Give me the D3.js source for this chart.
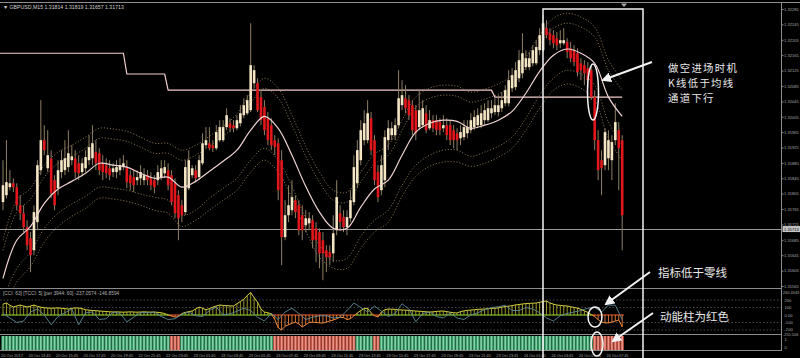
<!DOCTYPE html>
<html><head><meta charset="utf-8">
<script src="https://cdn.jsdelivr.net/npm/d3@7"></script>
<style>html,body{margin:0;padding:0;background:#000;overflow:hidden}svg{display:block}</style>
</head><body><svg id="c" width="800" height="358"></svg>
<script>
// ---------- DATA ----------
const open=[1.31783,1.31801,1.31822,1.31832,1.31822,1.31775,1.31754,1.31718,1.31689,1.31658,
1.31731,1.31866,1.31944,1.31871,1.31897,1.31840,1.31819,1.31861,1.31866,1.31874,
1.31892,1.31897,1.31884,1.31861,1.31871,1.31892,1.31897,1.31913,1.31910,1.31884,
1.31879,1.31871,1.31861,1.31861,1.31866,1.31874,1.31874,1.31853,1.31848,1.31840,
1.31845,1.31840,1.31853,1.31845,1.31840,1.31840,1.31848,1.31858,1.31866,1.31853,
1.31832,1.31801,1.31775,1.31757,1.31819,1.31853,1.31866,1.31848,1.31884,1.31931,
1.31936,1.31931,1.31923,1.31944,1.31944,1.31978,1.31988,1.31983,1.31975,1.31988,
1.32009,1.32014,1.32022,1.32092,1.32092,1.32056,1.32030,1.32001,1.31983,1.31944,
1.31936,1.31892,1.31692,1.31749,1.31762,1.31788,1.31775,1.31749,1.31723,1.31728,
1.31736,1.31715,1.31705,1.31684,1.31658,1.31653,1.31650,1.31710,1.31754,1.31744,
1.31718,1.31741,1.31783,1.31832,1.31892,1.31944,1.31944,1.32001,1.31944,1.31861,
1.31814,1.31840,1.31944,1.31957,1.31957,1.31983,1.32035,1.32053,1.32048,1.32035,
1.32022,1.31978,1.31983,1.32014,1.31975,1.31996,1.31996,1.31991,1.31975,1.31983,
1.31983,1.31970,1.31962,1.31949,1.31952,1.31962,1.31970,1.31978,1.31983,1.31983,
1.31996,1.31996,1.32014,1.32017,1.32017,1.32027,1.32040,1.32040,1.32079,1.32082,
1.32105,1.32118,1.32134,1.32134,1.32144,1.32144,1.32178,1.32178,1.32235,1.32222,
1.32217,1.32209,1.32196,1.32196,1.32199,1.32183,1.32178,1.32170,1.32144,1.32139,
1.32131,1.32126,1.32056,1.31944,1.31892,1.31879,1.31897,1.31892,1.31944,1.31970,1.31944];
const high=[1.31892,1.31944,1.31866,1.31845,1.31832,1.31801,1.31775,1.31736,1.31705,1.31775,
1.31892,1.32048,1.31983,1.31970,1.31918,1.31853,1.31892,1.31918,1.31944,1.31970,
1.31931,1.31918,1.31905,1.31897,1.31918,1.31957,1.31983,1.31944,1.31923,1.31905,
1.31897,1.31892,1.31884,1.31892,1.31897,1.31905,1.31892,1.31866,1.31866,1.31866,
1.31879,1.31871,1.31866,1.31861,1.31853,1.31879,1.31892,1.31892,1.31884,1.31866,
1.31845,1.31814,1.31788,1.31892,1.31918,1.31879,1.31879,1.31905,1.31962,1.31978,
1.31978,1.31944,1.31983,1.31996,1.31996,1.32027,1.32001,1.31996,1.32009,1.32035,
1.32053,1.32061,1.32248,1.32139,1.32105,1.32074,1.32048,1.32017,1.32001,1.31957,
1.31949,1.31918,1.31788,1.31827,1.31840,1.31801,1.31788,1.31775,1.31762,1.31757,
1.31749,1.31731,1.31715,1.31705,1.31671,1.31671,1.31749,1.31840,1.31775,1.31762,
1.31762,1.31814,1.31905,1.31944,1.31996,1.32022,1.32048,1.32017,1.31957,1.31879,
1.31905,1.31970,1.31996,1.31991,1.32001,1.32126,1.32100,1.32087,1.32061,1.32048,
1.32035,1.32074,1.32048,1.32035,1.32022,1.32009,1.32009,1.32001,1.32009,1.32001,
1.31996,1.31983,1.31975,1.31983,1.31996,1.31996,1.32014,1.32022,1.32027,1.32035,
1.32040,1.32048,1.32048,1.32053,1.32061,1.32069,1.32087,1.32126,1.32131,1.32147,
1.32178,1.32222,1.32178,1.32173,1.32191,1.32204,1.32235,1.32269,1.32256,1.32235,
1.32230,1.32225,1.32230,1.32235,1.32209,1.32199,1.32191,1.32183,1.32157,1.32152,
1.32147,1.32139,1.32074,1.31970,1.31918,1.31975,1.31970,1.31957,1.32040,1.31991,1.31957];
const low=[1.31762,1.31793,1.31814,1.31809,1.31762,1.31736,1.31705,1.31658,1.31601,1.31645,
1.31710,1.31853,1.31905,1.31861,1.31793,1.31762,1.31801,1.31845,1.31853,1.31861,
1.31879,1.31845,1.31840,1.31850,1.31861,1.31879,1.31879,1.31866,1.31853,1.31840,
1.31845,1.31840,1.31848,1.31845,1.31853,1.31866,1.31819,1.31814,1.31809,1.31827,
1.31827,1.31827,1.31827,1.31814,1.31806,1.31827,1.31840,1.31845,1.31814,1.31775,
1.31741,1.31684,1.31731,1.31749,1.31814,1.31845,1.31835,1.31840,1.31879,1.31923,
1.31918,1.31913,1.31918,1.31939,1.31939,1.31970,1.31965,1.31965,1.31970,1.31980,
1.32001,1.32009,1.32017,1.32079,1.32017,1.31983,1.31957,1.31931,1.31918,1.31905,
1.31788,1.31619,1.31684,1.31731,1.31749,1.31741,1.31697,1.31684,1.31705,1.31710,
1.31663,1.31627,1.31611,1.31580,1.31601,1.31619,1.31627,1.31697,1.31710,1.31705,
1.31697,1.31731,1.31775,1.31819,1.31879,1.31931,1.31936,1.31905,1.31827,1.31783,
1.31801,1.31822,1.31918,1.31944,1.31944,1.31975,1.32022,1.32014,1.31996,1.31957,
1.31944,1.31970,1.31975,1.31962,1.31970,1.31965,1.31957,1.31957,1.31965,1.31944,
1.31931,1.31923,1.31918,1.31931,1.31944,1.31949,1.31962,1.31970,1.31975,1.31975,
1.31983,1.31991,1.32001,1.32009,1.32006,1.32017,1.32032,1.32032,1.32069,1.32074,
1.32095,1.32105,1.32126,1.32126,1.32136,1.32139,1.32165,1.32173,1.32209,1.32191,
1.32183,1.32178,1.32183,1.32191,1.32157,1.32147,1.32136,1.32110,1.32100,1.32087,
1.32079,1.32048,1.31918,1.31840,1.31801,1.31866,1.31866,1.31840,1.31931,1.31814,1.31658];
const close=[1.31827,1.31835,1.31832,1.31822,1.31775,1.31754,1.31718,1.31671,1.31645,1.31757,
1.31879,1.31944,1.31918,1.31905,1.31806,1.31775,1.31866,1.31892,1.31897,1.31910,
1.31902,1.31861,1.31858,1.31884,1.31900,1.31926,1.31936,1.31884,1.31866,1.31861,
1.31858,1.31853,1.31871,1.31874,1.31879,1.31884,1.31835,1.31832,1.31827,1.31848,
1.31861,1.31853,1.31840,1.31827,1.31822,1.31861,1.31871,1.31874,1.31827,1.31783,
1.31754,1.31741,1.31749,1.31874,1.31892,1.31871,1.31845,1.31892,1.31936,1.31944,
1.31923,1.31923,1.31965,1.31978,1.31978,1.32009,1.31975,1.31975,1.31996,1.32014,
1.32035,1.32048,1.32139,1.32126,1.32022,1.31996,1.31970,1.31944,1.31931,1.31926,
1.31814,1.31692,1.31749,1.31775,1.31796,1.31757,1.31710,1.31710,1.31741,1.31741,
1.31684,1.31684,1.31650,1.31650,1.31640,1.31640,1.31702,1.31796,1.31731,1.31718,
1.31744,1.31788,1.31874,1.31918,1.31970,1.31988,1.32014,1.31918,1.31840,1.31796,
1.31879,1.31952,1.31975,1.31975,1.31983,1.32053,1.32061,1.32027,1.32009,1.31970,
1.31962,1.32022,1.32027,1.31970,1.31996,1.31975,1.31970,1.31970,1.31983,1.31957,
1.31944,1.31944,1.31944,1.31965,1.31978,1.31978,1.31996,1.32004,1.32009,1.32014,
1.32022,1.32027,1.32027,1.32035,1.32035,1.32048,1.32074,1.32100,1.32113,1.32126,
1.32152,1.32170,1.32157,1.32157,1.32178,1.32186,1.32217,1.32248,1.32217,1.32204,
1.32196,1.32191,1.32204,1.32204,1.32173,1.32157,1.32147,1.32121,1.32126,1.32118,
1.32100,1.32056,1.31944,1.31866,1.31871,1.31965,1.31944,1.31939,1.31991,1.31923,1.31749];

// moving average and channel bands, read every 4th bar
const maEvery=4;
const maLine=[1.31585,1.31684,1.31720,1.31780,1.31817,1.31837,1.31858,1.31884,1.31879,1.31874,
1.31858,1.31845,1.31848,1.31822,1.31837,1.31863,1.31889,1.31918,1.31970,1.32006,
1.31975,1.31905,1.31824,1.31757,1.31715,1.31715,1.31770,1.31817,1.31840,1.31905,
1.31965,1.31988,1.31996,1.31993,1.31975,1.31983,1.31996,1.32019,1.32066,1.32123,
1.32165,1.32181,1.32170,1.32144,1.32056,1.32006];
const bandUpperOuter=[1.31684,1.31788,1.31819,1.31879,1.31913,1.31931,1.31952,1.31975,1.31973,1.31967,
1.31952,1.31936,1.31936,1.31918,1.31931,1.31954,1.31980,1.32012,1.32066,1.32105,
1.32079,1.32009,1.31928,1.31861,1.31814,1.31809,1.31861,1.31908,1.31931,1.31996,
1.32056,1.32079,1.32087,1.32084,1.32069,1.32077,1.32090,1.32113,1.32160,1.32217,
1.32261,1.32274,1.32264,1.32238,1.32152,1.32100];
const bandUpperInner=[1.31658,1.31757,1.31791,1.31848,1.31884,1.31902,1.31923,1.31949,1.31947,1.31941,
1.31926,1.31910,1.31910,1.31892,1.31905,1.31928,1.31954,1.31986,1.32040,1.32079,
1.32053,1.31983,1.31902,1.31835,1.31788,1.31783,1.31835,1.31882,1.31905,1.31970,
1.32030,1.32053,1.32061,1.32058,1.32043,1.32051,1.32064,1.32087,1.32134,1.32191,
1.32235,1.32248,1.32238,1.32212,1.32126,1.32074];
const bandLowerInner=[1.31528,1.31611,1.31653,1.31715,1.31754,1.31778,1.31798,1.31822,1.31819,1.31814,
1.31804,1.31796,1.31788,1.31749,1.31762,1.31793,1.31819,1.31845,1.31892,1.31923,
1.31892,1.31824,1.31741,1.31671,1.31632,1.31637,1.31694,1.31736,1.31762,1.31827,
1.31879,1.31905,1.31918,1.31918,1.31902,1.31913,1.31928,1.31952,1.32001,1.32061,
1.32105,1.32126,1.32116,1.32087,1.31991,1.31931];
const bandLowerOuter=[1.31497,1.31575,1.31616,1.31679,1.31720,1.31746,1.31767,1.31793,1.31791,1.31785,
1.31775,1.31762,1.31754,1.31720,1.31736,1.31762,1.31788,1.31814,1.31861,1.31892,
1.31861,1.31793,1.31710,1.31640,1.31611,1.31611,1.31663,1.31705,1.31731,1.31798,
1.31850,1.31876,1.31887,1.31887,1.31876,1.31884,1.31900,1.31923,1.31970,1.32027,
1.32074,1.32090,1.32079,1.32048,1.31949,1.31892];

// stepped level line: level values and the bar where each begins
const levelValues=[1.32170,1.32116,1.32074,1.32056];
const levelStartBar=[0,36,48,143];

// CCI histogram (per bar) and fast CCI line (every 2nd bar)
const cciHist=[145,160,130,107,120,133,120,107,120,133,
115,105,97,93,90,93,95,90,85,80,
88,95,93,85,70,65,60,57,53,50,
47,43,40,42,40,38,40,42,40,38,
40,42,40,38,40,35,30,20,0,-15,
-27,-20,20,35,45,53,80,105,90,70,
85,105,120,133,128,125,122,120,150,180,
210,260,300,230,170,80,40,30,15,-60,
-170,-200,-150,-130,-110,-95,-120,-160,-130,-100,
-95,-100,-105,-107,-95,-80,-67,-50,-30,-35,
-60,-50,-10,27,60,85,90,30,-10,-27,
40,70,80,78,75,70,67,65,60,57,
53,50,47,43,40,42,48,52,53,45,
37,30,27,45,55,62,67,70,75,78,
80,85,88,90,95,105,112,118,125,135,
140,147,152,155,158,160,170,180,187,160,
145,133,128,123,120,110,100,93,75,55,
35,5,-20,-60,-95,-105,-105,-95,-80,-67,-160];
const cciEvery=2;
const cciFast=[20,-40,-100,-80,40,80,0,-130,-20,30,
80,-130,30,40,-60,-50,40,20,-90,-30,
35,30,40,-20,-60,-50,10,40,-10,-20,
60,105,0,15,50,90,60,-30,-80,20,
-60,40,90,20,-60,-30,-10,-10,-40,-30,
60,160,100,40,120,50,-20,20,150,80,
-90,20,40,-20,-40,27,-40,-60,0,30,
70,100,110,130,60,60,100,80,30,-40,
-80,-10,20,40,60,90,100,40,133,130,
-60];

const priceTicks=[1.32285,1.32245,1.32205,1.32165,1.32125,1.32085,1.32045,1.32005,1.31965,1.31925,
1.31885,1.31845,1.31805,1.31765,1.31725,1.31685,1.31645,1.31605,1.31565];
const bidPrice=1.31713;
const cciTicks=[200,100,0,-100,-200];
const cciTickLabels=["200","100","0.00","-100","-200"];
const cciMaxLabel="260.4043", cciMinLabel="-255.506";
const timeLabels=["20 Oct 2017","20 Oct 13:45","20 Oct 15:45","20 Oct 17:45","20 Oct 19:45","22 Oct 21:45",
"22 Oct 23:45","23 Oct 01:45","23 Oct 03:45","23 Oct 05:45","23 Oct 07:45","23 Oct 09:45","23 Oct 11:45",
"23 Oct 13:45","23 Oct 15:45","23 Oct 17:45","23 Oct 19:45","23 Oct 21:45","23 Oct 23:45","24 Oct 01:45",
"24 Oct 03:45","24 Oct 05:45","24 Oct 07:45"];
const barsPerLabel=8;
const titleText="GBPUSD,M15  1.31814 1.31819 1.31657 1.31713";
const cciTitle="[CCI: 63] [TCCI: 5] [per 3944: 60]  -237.0574  -146.8594";
const noteLines=["做空进场时机","K线低于均线","通道下行"];
const noteCci="指标低于零线", noteBars="动能柱为红色";

// ---------- DRAWING ----------
const svg=d3.select('#c');
svg.append('rect').attr('width',800).attr('height',358).attr('fill','#000');
const N=open.length, idx=d3.range(N);
const x=d3.scaleLinear().domain([0,N-1]).range([3,622.2]);
const y=d3.scaleLinear().domain([1.31565,1.32285]).range([286,9]);
const yc=d3.scaleLinear().domain([-200,200]).range([330,300]);
const AX=781.5, tiny="'Liberation Sans',Arial,sans-serif", grey="#8c8c8c";

const defs=svg.append('defs');
defs.append('clipPath').attr('id','mainclip').append('rect').attr('x',0).attr('y',3).attr('width',781).attr('height',285);
defs.append('clipPath').attr('id','cciclip').append('rect').attr('x',0).attr('y',289).attr('width',781).attr('height',45);
defs.append('marker').attr('id','ah').attr('viewBox','0 0 10 10').attr('refX',8).attr('refY',5)
  .attr('markerWidth',5).attr('markerHeight',5).attr('orient','auto')
  .append('path').attr('d','M0,0L10,5L0,10z').attr('fill','#f2f2f2');

// frame
const frame=svg.append('g').attr('stroke',grey).attr('stroke-width',1);
[[0,2.5,800,2.5],[0,288.5,AX,288.5],[0,334.5,AX,334.5],[0,350.5,AX,350.5],[AX,2,AX,351]].forEach(l=>
  frame.append('line').attr('x1',l[0]).attr('y1',l[1]).attr('x2',l[2]).attr('y2',l[3]));
svg.append('path').attr('d','M621,3.5L627,3.5L624,7z').attr('fill','#aaa');

// title
svg.append('text').attr('x',3).attr('y',8.5).attr('font-family',tiny).attr('font-size',5.2).attr('fill','#cfcfcf')
  .text('\u25BC '+titleText);

const main=svg.append('g').attr('clip-path','url(#mainclip)');

// price axis
const yAxis=d3.axisRight(y).tickValues(priceTicks).tickFormat(d=>d.toFixed(5)).tickSize(2).tickPadding(0.5);
const ga=svg.append('g').attr('transform',`translate(${AX},0)`).call(yAxis);
ga.select('.domain').remove();
ga.selectAll('line').attr('stroke',grey);
ga.selectAll('text').attr('font-family',tiny).attr('font-size',4.1).attr('fill','#a8a8a8');

// bid line
main.append('line').attr('x1',0).attr('x2',AX).attr('y1',Math.round(y(bidPrice))+0.5).attr('y2',Math.round(y(bidPrice))+0.5)
  .attr('stroke','#9a9a9a').attr('stroke-width',1);
svg.append('rect').attr('x',AX+1).attr('y',y(bidPrice)-3).attr('width',800-AX-1).attr('height',6).attr('fill','#c4c4c4');
svg.append('text').attr('x',AX+2.5).attr('y',y(bidPrice)+1.5).attr('font-family',tiny).attr('font-size',4.1).attr('fill','#000')
  .text(bidPrice.toFixed(5));

// stepped level line
const levelPts=[];
levelValues.forEach((v,s)=>{
  const a=levelStartBar[s], b=(s<levelValues.length-1?levelStartBar[s+1]-1:N-1);
  levelPts.push([s===0?x(a)-4:x(a),y(v)]); levelPts.push([x(b),y(v)]);
});
main.append('path').attr('d',d3.line()(levelPts)).attr('fill','none').attr('stroke','#f3cccc').attr('stroke-width',1.2);

// channel bands
const sampleLine=(arr)=>d3.line().x((d,k)=>x(k*maEvery)).y(d=>y(d)).curve(d3.curveCatmullRom)(arr);
[bandUpperOuter,bandUpperInner,bandLowerInner,bandLowerOuter].forEach(b=>
  main.append('path').attr('d',sampleLine(b)).attr('fill','none').attr('stroke','#9c8562')
    .attr('stroke-width',0.8).attr('stroke-dasharray','1.2,1.8'));

// candles
const cg=main.append('g');
cg.selectAll('line').data(idx).join('line')
  .attr('x1',i=>x(i)).attr('x2',i=>x(i)).attr('y1',i=>y(high[i])).attr('y2',i=>y(low[i]))
  .attr('stroke','#8e7e66').attr('stroke-width',1);
cg.selectAll('rect').data(idx).join('rect')
  .attr('x',i=>x(i)-1.3).attr('width',2.6)
  .attr('y',i=>y(Math.max(open[i],close[i])))
  .attr('height',i=>Math.max(1,Math.abs(y(open[i])-y(close[i]))))
  .attr('fill',i=>close[i]>=open[i]?'#f4e6c4':'#e2161b');

// moving average
main.append('path').attr('d',sampleLine(maLine)).attr('fill','none').attr('stroke','#f0d2d2').attr('stroke-width',1.2);

// ---------- CCI panel ----------
const cci=svg.append('g').attr('clip-path','url(#cciclip)');
cciTicks.forEach(t=>{ if(t!==0) cci.append('line').attr('x1',0).attr('x2',AX).attr('y1',yc(t)).attr('y2',yc(t))
  .attr('stroke','#5a5a5a').attr('stroke-width',0.8).attr('stroke-dasharray','1.5,2'); });
idx.forEach(i=>{ cci.append('line').attr('x1',x(i)-1.72).attr('x2',x(i)+1.72).attr('y1',yc(0)).attr('y2',yc(0))
  .attr('stroke',cciHist[i]>=0?'#86cf2e':'#d9542a').attr('stroke-width',1.2); });
cci.selectAll('line.h').data(idx).join('line').attr('class','h')
  .attr('x1',i=>x(i)).attr('x2',i=>x(i)).attr('y1',yc(0)).attr('y2',i=>yc(cciHist[i]))
  .attr('stroke',i=>cciHist[i]>=0?'#aaa62a':'#e8803a').attr('stroke-width',0.9);
for(let i=0;i<N-1;i++){
  cci.append('line').attr('x1',x(i)).attr('x2',x(i+1)).attr('y1',yc(cciHist[i])).attr('y2',yc(cciHist[i+1]))
    .attr('stroke',Math.min(cciHist[i],cciHist[i+1])<0?'#f08a3c':'#d6cf3c').attr('stroke-width',1);
}
cci.append('path').attr('d',d3.line().x((d,k)=>x(k*cciEvery)).y(d=>yc(d))(cciFast))
  .attr('fill','none').attr('stroke','#5f8a96').attr('stroke-width',0.9);
svg.append('text').attr('x',3).attr('y',295).attr('font-family',tiny).attr('font-size',4.8).attr('fill','#b0b0b0').text(cciTitle);
const cl=svg.append('g').attr('font-family',tiny).attr('font-size',4.1).attr('fill','#a8a8a8');
cl.append('text').attr('x',AX+1.5).attr('y',293.5).attr('font-size',3.9).text(cciMaxLabel);
cciTicks.forEach((t,k)=>cl.append('text').attr('x',AX+3).attr('y',yc(t)+(t===-200?0.6:1.5)).text(cciTickLabels[k]));
cl.append('text').attr('x',AX+1.5).attr('y',335.6).attr('font-size',3.9).text(cciMinLabel);

// ---------- momentum panel ----------
const mp=svg.append('g');
mp.selectAll('rect.bg').data(idx).join('rect').attr('class','bg')
  .attr('x',i=>x(i)-1.72).attr('width',3.44).attr('y',336).attr('height',14)
  .attr('fill',i=>cciHist[i]>=0?'#2b8a5c':'#b24a3e');
mp.selectAll('rect.fg').data(idx).join('rect').attr('class','fg')
  .attr('x',i=>x(i)-0.8).attr('width',1.6).attr('y',336).attr('height',14)
  .attr('fill',i=>cciHist[i]>=0?'#86d3a6':'#ee9484');
cl.append('text').attr('x',AX+3).attr('y',340.5).text('1');
cl.append('text').attr('x',AX+3).attr('y',348.5).text('0');

// time labels
const tg=svg.append('g').attr('font-family',tiny).attr('font-size',4.3).attr('fill','#a0a0a0');
timeLabels.forEach((t,k)=>tg.append('text').attr('x',x(k*barsPerLabel)-2).attr('y',356.5)
  .attr('textLength',22).attr('lengthAdjust','spacingAndGlyphs').text(t));

// ---------- annotations ----------
const an=svg.append('g').attr('fill','none').attr('stroke','#f2f2f2');
an.append('rect').attr('x',543).attr('y',9).attr('width',100).attr('height',352).attr('stroke-width',1.5);
an.append('ellipse').attr('cx',593).attr('cy',92).attr('rx',5.5).attr('ry',28).attr('stroke-width',1.5);
an.append('ellipse').attr('cx',595).attr('cy',317).attr('rx',7).attr('ry',10).attr('stroke-width',1.5);
an.append('ellipse').attr('cx',597).attr('cy',344).attr('rx',6).attr('ry',12).attr('stroke-width',1.5);
[[652,62,603,80],[650,272,606,304],[653,313,613,341]].forEach(a=>
  an.append('line').attr('x1',a[0]).attr('y1',a[1]).attr('x2',a[2]).attr('y2',a[3])
    .attr('stroke-width',2).attr('marker-end','url(#ah)'));
const cjk="'Noto Sans CJK SC','Noto Sans',sans-serif";
const tx=svg.append('g').attr('font-family',cjk).attr('fill','#e8e8e8');
noteLines.forEach((s,k)=>tx.append('text').attr('x',668).attr('y',71.5+k*15.3)
  .attr('font-size',10.4).attr('letter-spacing',1.3).text(s));
tx.append('text').attr('x',658).attr('y',277).attr('font-size',11.5).text(noteCci);
tx.append('text').attr('x',660).attr('y',321).attr('font-size',11.5).text(noteBars);
</script>
</body></html>
